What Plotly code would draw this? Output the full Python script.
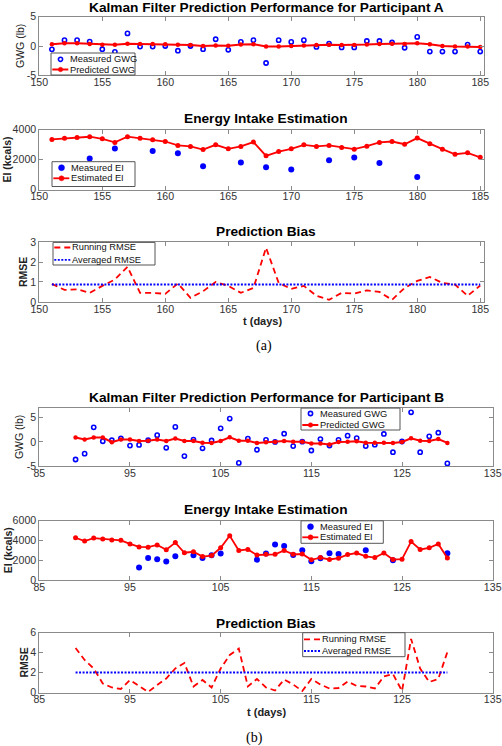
import plotly.graph_objects as go

# ---------------- Participant A ----------------
days_a = list(range(151, 186))
gwg_meas_a = [-0.57, 1.0, 1.0, 0.75, -0.55, -1.0, 2.15, -0.1, -0.1, 0.0, -0.8, 0.0, -0.55, 1.15,
              -0.65, 0.7, 1.0, -2.9, 1.0, 0.7, 1.0, -0.15, 0.4, -0.25, -0.25, 0.85, 0.85, 0.6,
              -0.3, 1.55, -0.95, -0.95, -0.95, 0.25, -0.95]
gwg_pred_a = [0.3, 0.45, 0.45, 0.35, 0.2, 0.2, 0.4, 0.35, 0.35, 0.3, 0.2, 0.15, 0.0, 0.1,
              0.05, 0.25, 0.3, -0.1, -0.1, 0.0, 0.1, 0.15, 0.2, 0.15, 0.15, 0.25, 0.35, 0.4,
              0.35, 0.45, 0.3, 0.0, -0.1, -0.1, -0.15]
ei_est_a = [3350, 3420, 3480, 3530, 3390, 3150, 3530, 3420, 3330, 3210, 2950, 2880, 2670, 2990,
            2720, 2880, 3170, 2250, 2540, 2720, 2990, 2880, 2950, 2810, 2700, 2900, 3150, 3210,
            3030, 3440, 3060, 2700, 2360, 2450, 2150]
ei_meas_days_a = [154, 156, 159, 161, 163, 166, 168, 170, 173, 175, 177, 180]
ei_meas_a = [2070, 2740, 2580, 2430, 1550, 1800, 1480, 1330, 1960, 2140, 1780, 830]
rmse_run_a = [0.9, 0.6, 0.63, 0.45, 0.8, 1.12, 1.76, 0.45, 0.45, 0.4, 0.92, 0.2, 0.53, 1.0,
              0.8, 0.45, 0.7, 2.72, 0.95, 0.65, 0.8, 0.3, 0.1, 0.45, 0.42, 0.57, 0.5, 0.1,
              0.7, 1.05, 1.25, 0.95, 0.87, 0.3, 0.82]
rmse_avg_a = 0.87

# ---------------- Participant B ----------------
days_b = list(range(89, 131))
gwg_meas_b = [-3.6, -2.4, 3.0, 0.15, 0.35, 0.75, -0.75, -0.6, 0.35, 1.4, -1.2, 3.1, -2.9, 0.5,
              -1.3, 0.3, 2.8, 4.8, -4.3, 0.7, -1.6, 0.45, 0.0, 1.7, -0.85, 0.05, -1.75, 0.6,
              -0.75, 0.45, 1.3, 0.8, -0.85, -0.55, 1.65, -2.1, 0.1, 6.1, -2.1, 1.15, 1.9, -4.4]
gwg_pred_b = [0.9, 0.5, 0.9, 0.9, -0.05, 0.5, 0.5, 0.2, 0.25, 0.5, 0.2, 0.7, 0.2, 0.2,
              -0.15, -0.2, 0.2, 0.95, 0.25, 0.25, -0.2, -0.05, 0.0, 0.2, 0.05, 0.05, -0.3, -0.3,
              -0.5, 0.0, 0.05, 0.15, -0.15, -0.15, -0.15, -0.2, 0.0, 0.75, 0.25, 0.2, 0.6, -0.2]
ei_est_b = [4260, 3930, 4230, 4130, 4030, 4000, 3640, 3340, 3310, 3540, 3050, 3770, 2750, 2850,
            2360, 2460, 3250, 4460, 2980, 3080, 2520, 2590, 2590, 2980, 2590, 2620, 2030, 2260,
            2070, 2200, 2560, 2720, 2390, 2260, 2720, 2070, 2100, 3870, 3080, 3250, 3640, 2230]
ei_meas_days_b = [96, 97, 98, 99, 100, 102, 103, 104, 105, 109, 110, 111, 112, 113, 114, 115,
                  116, 117, 118, 121, 124, 130]
ei_meas_b = [1270, 2230, 2100, 1860, 2390, 2490, 2230, 2490, 2660, 2040, 2680, 3580, 3440, 2530,
             2990, 1880, 2200, 2710, 2620, 3010, 2000, 2700]
rmse_run_b = [4.45, 3.25, 2.4, 0.9, 0.5, 0.35, 1.25, 0.65, 0.05, 0.75, 1.4, 2.4, 2.95, 0.6,
              1.25, 0.5, 2.4, 3.75, 4.4, 0.6, 1.35, 0.5, 0.2, 1.3, 0.8, 0.15, 1.35, 0.8,
              0.4, 0.45, 1.1, 0.65, 0.6, 0.4, 1.6, 1.85, 0.15, 5.35, 2.4, 1.05, 1.35, 4.05]
rmse_avg_b = 2.0

xticks_a = [150, 155, 160, 165, 170, 175, 180, 185]
xticks_b = [85, 95, 105, 115, 125, 135]

W, H = 502, 746
BLUE = "rgb(0,0,255)"
RED = "rgb(255,0,0)"
FONT = "Liberation Sans, Arial, sans-serif"


def px(x):
    return x / W


def py(y):
    return 1 - y / H


fig = go.Figure()

panels = [
    ("", (39.3, 484.0), (16.7, 75.3)),
    ("2", (39.3, 484.0), (129.7, 189.5)),
    ("3", (39.3, 484.0), (242.2, 301.8)),
    ("4", (39.3, 492.7), (407.9, 466.3)),
    ("5", (39.3, 492.7), (520.5, 580.0)),
    ("6", (39.3, 492.7), (632.5, 692.5)),
]

# styles
ST_GWG_MEAS = dict(mode="markers", marker=dict(symbol="circle-open", size=4.2, color=BLUE,
                                               line=dict(width=1.6, color=BLUE)))
ST_PRED = dict(mode="lines+markers", line=dict(color=RED, width=2), marker=dict(size=4.5, color=RED))
ST_EI_MEAS = dict(mode="markers", marker=dict(size=6, color=BLUE))
ST_EST = dict(mode="lines+markers", line=dict(color=RED, width=1.8), marker=dict(size=5, color=RED))
ST_RUN = dict(mode="lines", line=dict(color=RED, width=1.8, dash="6px,4px"))
ST_AVG = dict(mode="lines", line=dict(color=BLUE, width=1.8, dash="2px,1.5px"))


def add(x, y, name, style, idx):
    s = panels[idx][0]
    fig.add_trace(go.Scatter(x=x, y=y, name=name, xaxis="x" + s, yaxis="y" + s,
                             showlegend=False, **style))


add(days_a, gwg_meas_a, "Measured GWG", ST_GWG_MEAS, 0)
add(days_a, gwg_pred_a, "Predicted GWG", ST_PRED, 0)
add(ei_meas_days_a, ei_meas_a, "Measured EI", ST_EI_MEAS, 1)
add(days_a, ei_est_a, "Estimated EI", ST_EST, 1)
add(days_a, rmse_run_a, "Running RMSE", ST_RUN, 2)
add([days_a[0], days_a[-1]], [rmse_avg_a, rmse_avg_a], "Averaged RMSE", ST_AVG, 2)
add(days_b, gwg_meas_b, "Measured GWG", ST_GWG_MEAS, 3)
add(days_b, gwg_pred_b, "Predicted GWG", ST_PRED, 3)
add(ei_meas_days_b, ei_meas_b, "Measured EI", ST_EI_MEAS, 4)
add(days_b, ei_est_b, "Estimated EI", ST_EST, 4)
add(days_b, rmse_run_b, "Running RMSE", ST_RUN, 5)
add([days_b[0], days_b[-1]], [rmse_avg_b, rmse_avg_b], "Averaged RMSE", ST_AVG, 5)

yinfo = [
    ([-5, 5], [-5, 0, 5], ["-5", "0", "5"]),
    ([0, 4000], [0, 2000, 4000], ["0", "2000", "4000"]),
    ([0, 3], [0, 1, 2, 3], ["0", "1", "2", "3"]),
    ([-5, 7], [-5, 0, 5], ["-5", "0", "5"]),
    ([0, 6000], [0, 2000, 4000, 6000], ["0", "2000", "4000", "6000"]),
    ([0, 6], [0, 2, 4, 6], ["0", "2", "4", "6"]),
]

axis_common = dict(showgrid=False, zeroline=False, showline=True, linecolor="#8a8a8a", linewidth=1,
                   mirror="ticks", ticks="inside", ticklen=4, tickcolor="#8a8a8a", tickwidth=1,
                   automargin=False, fixedrange=True,
                   tickfont=dict(family=FONT, size=10.6, color="#333333"))

layout = dict(width=W, height=H, margin=dict(l=0, r=0, t=0, b=0, autoexpand=False),
              paper_bgcolor="white", plot_bgcolor="white", showlegend=False,
              font=dict(family=FONT, color="#222"))

for i, (s, (xl, xr), (yt, yb)) in enumerate(panels):
    xr_range = [150, 185.3] if i < 3 else [85, 135]
    xt = xticks_a if i < 3 else xticks_b
    layout["xaxis" + s] = dict(domain=[px(xl), px(xr)], anchor="y" + s, range=xr_range,
                               tickvals=xt, ticktext=[str(v) for v in xt],
                               ticklabelstandoff=-3, **axis_common)
    rng, tv, tt = yinfo[i]
    layout["yaxis" + s] = dict(domain=[py(yb), py(yt)], anchor="x" + s, range=rng,
                               tickvals=tv, ticktext=tt, **axis_common)

fig.update_layout(**layout)

annotations = []
shapes = []

titles = [("Kalman Filter Prediction Performance for Participant A", 7.5),
          ("Energy Intake Estimation", 118.8),
          ("Prediction Bias", 231.4),
          ("Kalman Filter Prediction Performance for Participant B", 397.0),
          ("Energy Intake Estimation", 509.7),
          ("Prediction Bias", 623.0)]
for t, y in titles:
    annotations.append(dict(text="<b>" + t + "</b>", x=px(266), y=py(y), xref="paper", yref="paper",
                            xanchor="center", yanchor="middle", showarrow=False,
                            font=dict(family=FONT, size=13.7, color="black")))

ylabels = [("GWG (lb)", 20, False), ("EI (kcals)", 7, True), ("RMSE", 23, True),
           ("GWG (lb)", 19, False), ("EI (kcals)", 8, True), ("RMSE", 23, True)]
for i, (t, x, bold) in enumerate(ylabels):
    yt, yb = panels[i][2]
    annotations.append(dict(text=("<b>%s</b>" % t) if bold else t, x=px(x), y=py((yt + yb) / 2),
                            xref="paper", yref="paper", xanchor="center", yanchor="middle",
                            textangle=-90, showarrow=False,
                            font=dict(family=FONT, size=10.5, color="#222")))

for x, y in [(262, 321.0), (266, 711.5)]:
    annotations.append(dict(text="<b>t (days)</b>", x=px(x), y=py(y), xref="paper", yref="paper",
                            xanchor="center", yanchor="middle", showarrow=False,
                            font=dict(family=FONT, size=11, color="#222")))

for t, x, y in [("(a)", 264, 346.0), ("(b)", 254, 737.5)]:
    annotations.append(dict(text=t, x=px(x), y=py(y), xref="paper", yref="paper",
                            xanchor="center", yanchor="middle", showarrow=False,
                            font=dict(family="Liberation Serif, Times New Roman, serif", size=14,
                                      color="black")))

# ---- legend boxes (drawn as layout shapes + text) ----
legends = [
    (51, 53, 135, 75, 59.3, 69.5, [("Measured GWG", ST_GWG_MEAS), ("Predicted GWG", ST_PRED)]),
    (52, 161.7, 135, 186.5, 167.7, 178.3, [("Measured EI", ST_EI_MEAS), ("Estimated EI", ST_EST)]),
    (53, 242.4, 155, 265, 247.5, 259.8, [("Running RMSE", ST_RUN), ("Averaged RMSE", ST_AVG)]),
    (301, 408.1, 400, 430, 413.5, 425.0, [("Measured GWG", ST_GWG_MEAS), ("Predicted GWG", ST_PRED)]),
    (301, 520.8, 383.3, 543.3, 526.7, 537.3, [("Measured EI", ST_EI_MEAS), ("Estimated EI", ST_EST)]),
    (302.7, 632.7, 405, 656.7, 639.3, 651.0, [("Running RMSE", ST_RUN), ("Averaged RMSE", ST_AVG)]),
]


def pshape(**kw):
    d = dict(xref="paper", yref="paper", layer="above")
    d.update(kw)
    shapes.append(d)


for L, T, R, B, r1, r2, entries in legends:
    pshape(type="rect", x0=px(L), x1=px(R), y0=py(B), y1=py(T),
           line=dict(color="#555555", width=1), fillcolor="white")
    for (name, st), ry in zip(entries, (r1, r2)):
        cx = L + 9.5
        if "lines" in st["mode"]:
            pshape(type="line", x0=px(L + 1.3), x1=px(L + 17.3), y0=py(ry), y1=py(ry),
                   line=dict(color=st["line"]["color"], width=st["line"]["width"],
                             dash=st["line"].get("dash", "solid")))
        if "markers" in st["mode"]:
            m = st["marker"]
            r = m["size"] / 2.0
            if m.get("symbol") == "circle-open":
                pshape(type="circle", x0=px(cx - r), x1=px(cx + r), y0=py(ry + r), y1=py(ry - r),
                       line=dict(color=m["color"], width=m["line"]["width"]), fillcolor="white")
            else:
                pshape(type="circle", x0=px(cx - r), x1=px(cx + r), y0=py(ry + r), y1=py(ry - r),
                       line=dict(color=m["color"], width=0.5), fillcolor=m["color"])
        annotations.append(dict(text=name, x=px(L + 17.0), y=py(ry), xref="paper", yref="paper",
                                xanchor="left", yanchor="middle", showarrow=False,
                                font=dict(family=FONT, size=9.3, color="#111")))

fig.update_layout(annotations=annotations, shapes=shapes)
fig.write_html("out.html", config={"displayModeBar": False, "staticPlot": True},
               post_script="document.body.style.margin='0';document.body.style.overflow='hidden';")
